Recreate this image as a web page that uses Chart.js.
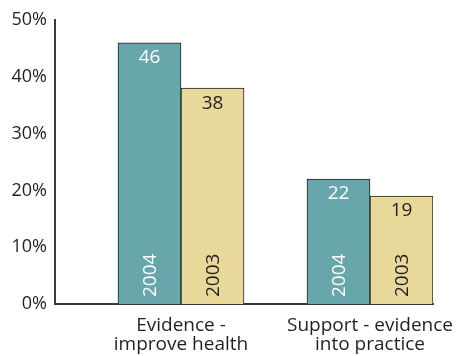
<!DOCTYPE html>
<html>
<head>
<meta charset="utf-8">
<script src="https://cdn.jsdelivr.net/npm/chart.js@4"></script>
<style>
  html, body { margin: 0; padding: 0; background: #fff; }
  #wrap { width: 460px; height: 356px; }
</style>
</head>
<body>
<div id="wrap"><canvas id="chart"></canvas></div>
<script>
const categories = [['Evidence -', 'improve health'], ['Support - evidence', 'into practice']];
const years = ['2004', '2003'];
const values2004 = [46, 22];
const values2003 = [38, 19];
const yTicks = [0, 10, 20, 30, 40, 50];

const teal = '#67a6aa';
const tan = '#e8d99b';
const ink = '#231f20';
const font = "'Open Sans', sans-serif";

// value at the top of each bar, year written upward at its foot
const barLabels = {
  id: 'barLabels',
  afterDatasetsDraw(chart) {
    const ctx = chart.ctx;
    chart.data.datasets.forEach((ds, di) => {
      const meta = chart.getDatasetMeta(di);
      meta.data.forEach((bar, i) => {
        ctx.save();
        ctx.fillStyle = ds.labelColor;
        ctx.font = '19px ' + font;
        ctx.textAlign = 'center';
        ctx.textBaseline = 'middle';
        ctx.fillText(String(ds.data[i].y), bar.x, bar.y + 15);
        ctx.translate(bar.x, bar.base - 7);
        ctx.rotate(-Math.PI / 2);
        ctx.textAlign = 'left';
        ctx.fillText(ds.label, 0, 1);
        ctx.restore();
      });
    });
  }
};

const toPoints = vals => vals.map((v, i) => ({ x: i, y: v }));

const data = {
  datasets: [
    {
      label: years[0],
      data: toPoints(values2004),
      backgroundColor: teal,
      borderColor: ink,
      borderWidth: 1,
      labelColor: '#ffffff'
    },
    {
      label: years[1],
      data: toPoints(values2003),
      backgroundColor: tan,
      borderColor: ink,
      borderWidth: 1,
      labelColor: ink
    }
  ]
};

const config = {
  type: 'bar',
  data: data,
  options: {
    responsive: true,
    maintainAspectRatio: false,
    animation: false,
    barThickness: 63,
    layout: { padding: { left: 12, right: 27, top: 20, bottom: 0 } },
    plugins: {
      legend: { display: false },
      tooltip: { enabled: false }
    },
    scales: {
      x: {
        type: 'linear',
        offset: false,
        min: -2 / 3,
        max: 4 / 3,
        grid: { display: false, drawTicks: false },
        border: { display: true, color: '#3a3a3a', width: 2 },
        afterBuildTicks: scale => { scale.ticks = categories.map((c, i) => ({ value: i })); },
        afterFit: scale => {
          scale.height = 52;
          scale.paddingLeft = 0;
          scale.paddingRight = 0;
        },
        ticks: {
          padding: 12,
          color: ink,
          font: { family: font, size: 19, lineHeight: 1.0 },
          maxRotation: 0,
          autoSkip: false,
          callback: v => categories[v]
        }
      },
      y: {
        min: 0,
        max: 50,
        grid: { display: false, drawTicks: false },
        border: { display: true, color: '#3a3a3a', width: 2 },
        afterBuildTicks: scale => { scale.ticks = yTicks.map(v => ({ value: v })); },
        afterFit: scale => { scale.width = 43; },
        ticks: {
          padding: 8,
          color: ink,
          font: { family: font, size: 18 },
          callback: v => v + '%'
        }
      }
    }
  },
  plugins: [barLabels]
};

const myChart = new Chart(document.getElementById('chart').getContext('2d'), config);
</script>
</body>
</html>
